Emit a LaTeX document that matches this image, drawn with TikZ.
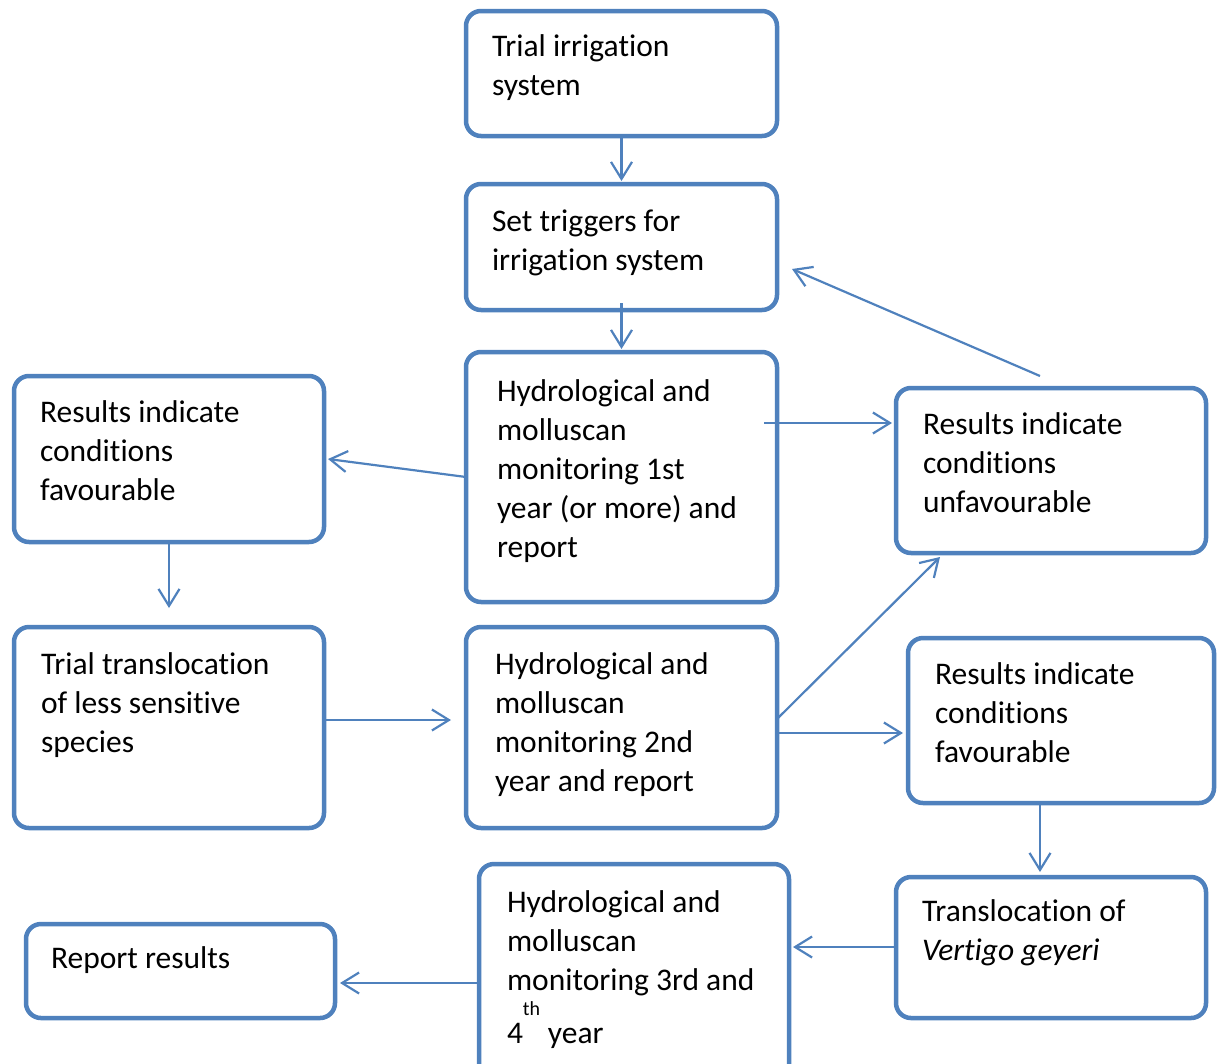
\documentclass[tikz,border=0pt]{standalone}
\usepackage{fontspec}
\setmainfont{Carlito}[Ligatures={NoCommon,NoContextual,NoRare}]
\usetikzlibrary{arrows.meta,calc}
\definecolor{bx}{RGB}{79,129,189}
\begin{document}
\begin{tikzpicture}[x=1pt,y=-1pt,
  box/.style={draw=bx, line width=4.5pt, rounded corners=15pt, anchor=north west, inner sep=0pt, outer sep=0pt, fill=white},
  txt/.style={anchor=north west, inner sep=0pt, outer sep=0pt, align=left, font=\fontsize{31.5}{39}\selectfont},
  arr/.style={draw=bx, line width=2.2pt, -{Straight Barb[length=17pt,width=21pt]}}]
\useasboundingbox (0,0) rectangle (1217,1063);
% boxes
\node[box, minimum width=311pt, minimum height=125pt] (b1) at (466,11) {};
\node[box, minimum width=311pt, minimum height=126pt] (b2) at (466,184) {};
\node[box, minimum width=311pt, minimum height=250pt] (b3) at (466,352) {};
\node[box, minimum width=310pt, minimum height=166pt] (b4) at (14,376) {};
\node[box, minimum width=310pt, minimum height=165pt] (b5) at (896,388) {};
\node[box, minimum width=310pt, minimum height=201pt] (b6) at (14,627) {};
\node[box, minimum width=311pt, minimum height=201pt] (b7) at (466,627) {};
\node[box, minimum width=306pt, minimum height=165pt] (b8) at (908,638) {};
\node[box, minimum width=310pt, minimum height=141pt] (b9) at (896,877) {};
\node[box, minimum width=310pt, minimum height=216pt] (b10) at (479,864) {};
\node[box, minimum width=309pt, minimum height=94pt] (b11) at (26,924) {};
% texts
\node[txt] (t1) at (492,28.7) {\strut Trial irrigation\\system};
\node[txt] (t2) at (492,203.7) {\strut Set triggers for\\irrigation system};
\node[txt] (t3) at (497,373.7) {\strut Hydrological and\\molluscan\\monitoring 1st\\year (or more) and\\report};
\node[txt] (t4) at (40,394.7) {\strut Results indicate\\conditions\\favourable};
\node[txt] (t5) at (923,406.7) {\strut Results indicate\\conditions\\unfavourable};
\node[txt] (t6) at (41,646.7) {\strut Trial translocation\\of less sensitive\\species};
\node[txt] (t7) at (495,646.7) {\strut Hydrological and\\molluscan\\monitoring 2nd\\year and report};
\node[txt] (t8) at (935,656.7) {\strut Results indicate\\conditions\\favourable};
\node[txt] (t9) at (922,893.7) {\strut Translocation of\\\textit{Vertigo geyeri}};
\node[txt] (t10) at (507,884.7) {\strut Hydrological and\\molluscan\\monitoring 3rd and\\[14pt]4\rlap{\smash{\raisebox{28pt}{\fontsize{20}{24}\selectfont th}}}\hspace{25pt}year};
\node[txt] (t11) at (51,940.7) {\strut Report results};
% arrows
\draw[arr] (b1.south) -- ($(b2.north)+(0,-3)$);
\draw[arr] ($(b2.south)+(0,-7)$) -- ($(b3.north)+(0,-3)$);
\draw[arr] ($(b3.north west)+(0,125)$) -- ($(b4.north east)+(4,83)$);
\draw[arr] ($(b3.north east)+(-13,71)$) -- ($(b5.north west)+(-4,35)$);
\draw[arr] ($(b5.north west)+(144,-12)$) -- ($(b2.north east)+(15,85)$);
\draw[arr] (b4.south) -- ($(b6.north)+(0,-19)$);
\draw[arr] ($(b6.north east)+(0,93)$) -- ($(b7.north west)+(-15,93)$);
\draw[arr] ($(b7.north east)+(1,91)$) -- ($(b5.south west)+(44,4)$);
\draw[arr] ($(b7.north east)+(0,106)$) -- ($(b8.north west)+(-5,95)$);
\draw[arr] ($(b8.south west)+(132,0)$) -- ($(b9.north west)+(144,-5)$);
\draw[arr] ($(b9.north west)+(0,70)$) -- ($(b10.north east)+(4,83)$);
\draw[arr] ($(b10.north west)+(0,119)$) -- ($(b11.north east)+(5,59)$);
\end{tikzpicture}
\end{document}
